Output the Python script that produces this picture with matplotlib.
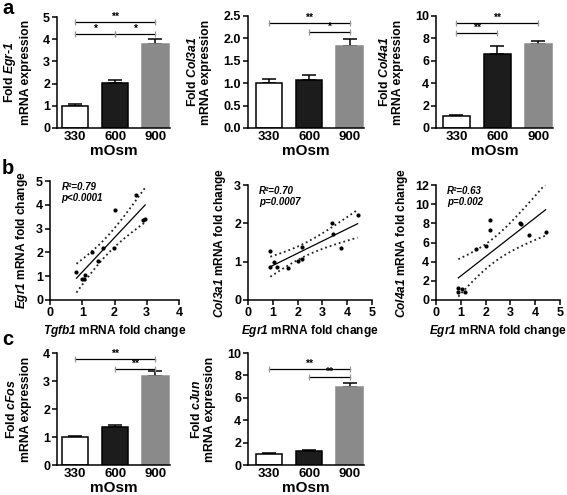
import numpy as np
import matplotlib
matplotlib.use("Agg")
import matplotlib.pyplot as plt

plt.rcParams['font.family'] = ['Liberation Sans', 'DejaVu Sans']
plt.rcParams['font.weight'] = 'bold'
plt.rcParams['axes.labelweight'] = 'bold'
# math text is only used for the gene names -> bold italic everywhere
plt.rcParams['mathtext.fontset'] = 'custom'
plt.rcParams['mathtext.it'] = 'Liberation Sans:style=italic:weight=bold'
plt.rcParams['mathtext.rm'] = 'Liberation Sans:style=italic:weight=bold'
plt.rcParams['mathtext.bf'] = 'Liberation Sans:style=italic:weight=bold'
plt.rcParams['axes.linewidth'] = 1.1

# bar data (mean, sem) per osmolarity
groups = ['330', '600', '900']
egr1_mean = [1.0, 2.01, 3.78]
egr1_err = [0.06, 0.14, 0.22]
col3a1_mean = [1.0, 1.08, 1.82]
col3a1_err = [0.10, 0.10, 0.17]
col4a1_mean = [1.03, 6.62, 7.5]
col4a1_err = [0.09, 0.70, 0.25]
cfos_mean = [0.99, 1.37, 3.19]
cfos_err = [0.05, 0.07, 0.17]
cjun_mean = [0.99, 1.25, 6.93]
cjun_err = [0.08, 0.09, 0.38]

# correlation data
tgfb1_fc = [0.82, 1.0, 1.05, 1.1, 1.3, 1.5, 1.65, 1.98, 2.0, 2.67, 2.87, 2.95]
egr1_fc_b1 = [1.18, 0.88, 0.88, 1.05, 2.02, 1.62, 2.17, 2.17, 3.77, 4.42, 3.38, 3.42]
egr1_fc = [0.9, 0.9, 1.05, 1.18, 1.62, 2.02, 2.17, 2.17, 3.38, 3.42, 3.77, 4.42]
col3a1_fc = [1.28, 0.87, 0.98, 0.85, 0.83, 1.02, 1.07, 1.37, 2.02, 1.72, 1.36, 2.21]
col4a1_fc = [1.22, 0.87, 1.1, 0.85, 5.28, 5.6, 8.4, 7.3, 8.0, 7.95, 6.8, 7.05]

W, H = 567, 495
fig = plt.figure(figsize=(W / 100, H / 100), dpi=100)


def px_axes(l, t, r, b):
    ax = fig.add_axes([l / W, 1 - b / H, (r - l) / W, (b - t) / H])
    ax.spines['top'].set_visible(False)
    ax.spines['right'].set_visible(False)
    ax.tick_params(labelsize=9, width=1.1, length=3.5, pad=1.5)
    return ax


def bold_ticks(ax):
    for lab in ax.get_xticklabels() + ax.get_yticklabels():
        lab.set_fontweight('bold')


def sig(ax, x0, x1, y, label):
    ax.plot([x0, x1], [y, y], color='black', lw=0.9, zorder=3)
    ax.plot([x0, x1], [y, y], ls='none', marker='|', ms=4, mew=0.9,
            color='#999999', zorder=4)
    ax.text((x0 + x1) / 2, y, label, ha='center', va='bottom', fontsize=7.5)


def bar_panel(box, means, errs, ylim, yticks, ylabel, left, sigs, yfmt=None):
    ax = px_axes(*box)
    x = np.arange(3)
    cols = ['white', '#1c1c1c', '#8a8a8a']
    edges = ['black', 'black', '#8a8a8a']
    ax.bar(x, means, width=0.65, color=cols, edgecolor=edges, linewidth=1.1,
           zorder=2)
    ax.errorbar(x, means, yerr=[[0] * 3, errs], fmt='none', ecolor='black',
                elinewidth=1.1, capsize=5, capthick=1.1, zorder=1)
    ax.set_xlim(left, 2.36)
    ax.set_ylim(*ylim)
    ax.set_yticks(yticks)
    if yfmt:
        ax.set_yticklabels([yfmt.format(v) for v in yticks])
    ax.set_xticks(x)
    ax.set_xticklabels(groups, fontsize=9.5)
    ax.tick_params(axis='x', length=0, pad=2.5)
    bold_ticks(ax)
    ax.set_xlabel('mOsm', fontsize=11, labelpad=0.5)
    ax.set_ylabel(ylabel, fontsize=8.8, linespacing=1.15, labelpad=8)
    for x0, x1, y, lab in sigs:
        sig(ax, x0, x1, y, lab)
    return ax


def scatter_panel(box, xs, ys, xlim, ylim, xticks, yticks, xlabel, ylabel,
                  r2, p):
    ax = px_axes(*box)
    xs = np.array(xs)
    ys = np.array(ys)
    ax.scatter(xs, ys, s=9, color='black', zorder=3, linewidths=0)
    n = len(xs)
    slope, icpt = np.polyfit(xs, ys, 1)
    xf = np.linspace(xs.min(), xs.max(), 60)
    yf = slope * xf + icpt
    resid = ys - (slope * xs + icpt)
    s = np.sqrt(np.sum(resid ** 2) / (n - 2))
    se = s * np.sqrt(1 / n + (xf - xs.mean()) ** 2 / np.sum((xs - xs.mean()) ** 2))
    t = 2.228
    ax.plot(xf, yf, color='black', lw=0.9)
    ax.plot(xf, yf + t * se, color='#222222', lw=1.3, ls=':')
    ax.plot(xf, yf - t * se, color='#222222', lw=1.3, ls=':')
    ax.set_xlim(*xlim)
    ax.set_ylim(*ylim)
    ax.set_xticks(xticks)
    ax.set_yticks(yticks)
    bold_ticks(ax)
    ax.set_xlabel(xlabel, fontsize=8.6, labelpad=3)
    ax.set_ylabel(ylabel, fontsize=8.6, labelpad=4)
    ax.text(0.09, 0.99, 'R\u00b2=' + r2 + '\np' + p, transform=ax.transAxes,
            fontsize=7, style='italic', va='top', linespacing=1.1)
    return ax


bar_panel((57, 17, 170, 128), egr1_mean, egr1_err, (0, 5), range(6),
          'Fold $Egr$-$1$\nmRNA expression', -0.44,
          [(0, 2, 4.78, '**'), (0, 1, 4.25, '*'), (1, 2, 4.25, '*')])
bar_panel((248, 16, 364, 128), col3a1_mean, col3a1_err, (0, 2.5),
          [0, 0.5, 1.0, 1.5, 2.0, 2.5],
          'Fold $Col3a1$\nmRNA expression', -0.52,
          [(0, 2, 2.34, '**'), (1, 2, 2.15, '*')], yfmt='{:.1f}')
bar_panel((436, 16, 553, 128), col4a1_mean, col4a1_err, (0, 10),
          [0, 2, 4, 6, 8, 10],
          'Fold $Col4a1$\nmRNA expression', -0.5,
          [(0, 2, 9.4, '**'), (0, 1, 8.5, '**')])

scatter_panel((50, 181, 179, 300), tgfb1_fc, egr1_fc_b1, (0, 4), (0, 5),
              range(5), range(6), '$Tgfb1$ mRNA fold change',
              '$Egr1$ mRNA fold change', '0.79', '<0.0001')
scatter_panel((248, 185, 372, 300), egr1_fc, col3a1_fc, (0, 5), (0, 3),
              range(6), range(4), '$Egr1$ mRNA fold change',
              '$Col3a1$ mRNA fold change', '0.70', '=0.0007')
scatter_panel((436, 185, 560, 300), egr1_fc, col4a1_fc, (0, 5), (0, 12),
              range(6), range(0, 13, 2), '$Egr1$ mRNA fold change',
              '$Col4a1$ mRNA fold change', '0.63', '=0.002')

bar_panel((57, 353, 170, 465), cfos_mean, cfos_err, (0, 4), range(5),
          'Fold $cFos$\nmRNA expression', -0.44,
          [(0, 2, 3.79, '**'), (1, 2, 3.43, '**')])
bar_panel((248, 353, 364, 465), cjun_mean, cjun_err, (0, 10),
          [0, 2, 4, 6, 8, 10],
          'Fold $cJun$\nmRNA expression', -0.52,
          [(0, 2, 8.6, '**'), (1, 2, 7.85, '**')])

for lab, y in [('a', 14), ('b', 174), ('c', 345)]:
    fig.text(2 / W, 1 - y / H, lab, fontsize=14.5, fontweight='bold',
             va='baseline')

fig.savefig('out.png', dpi=100)
